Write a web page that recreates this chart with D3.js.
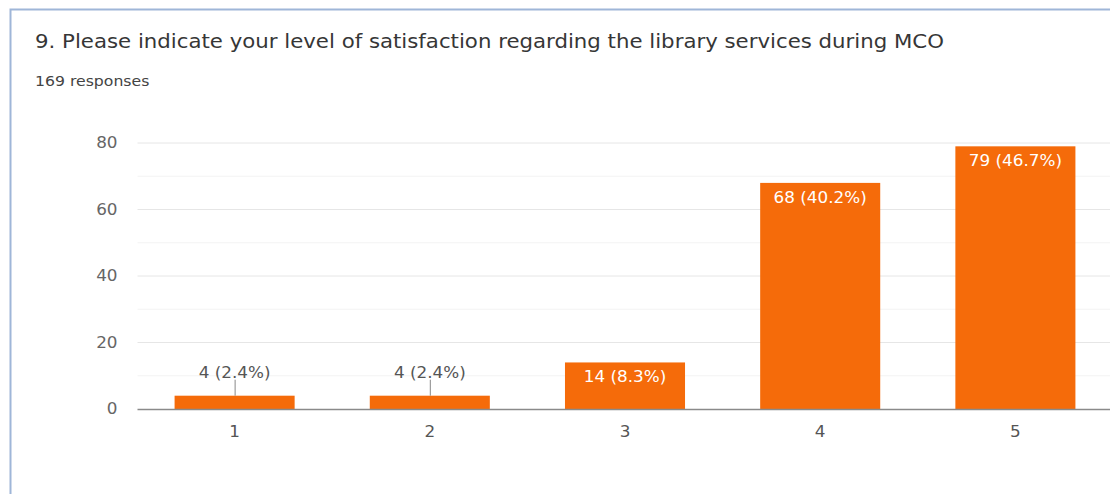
<!DOCTYPE html>
<html>
<head>
<meta charset="utf-8">
<script src="https://cdn.jsdelivr.net/npm/d3@7"></script>
<style>
  html, body { margin: 0; padding: 0; background: #fff; }
  svg { display: block; font-family: "DejaVu Sans", Verdana, sans-serif; }
</style>
</head>
<body>
<svg id="chart" width="1110" height="494"></svg>
<script>
const titleText = "9. Please indicate your level of satisfaction regarding the library services during MCO";
const subtitleText = "169 responses";
const categories = ["1", "2", "3", "4", "5"];
const counts = [4, 4, 14, 68, 79];
const percents = ["2.4%", "2.4%", "8.3%", "40.2%", "46.7%"];
const yTicks = [0, 20, 40, 60, 80];

const svg = d3.select("#chart");
const W = 1110, H = 494;
const FONT = "'DejaVu Sans', Verdana, sans-serif";
const STRETCH = 1.12; // glyphs are drawn slightly wide

// card frame (open to the right and bottom)
svg.append("path")
  .attr("d", `M10.5,${H} V9.5 H${W}`)
  .attr("fill", "none")
  .attr("stroke", "#9fb6d8")
  .attr("stroke-width", 2);

svg.append("text")
  .attr("x", 35).attr("y", 48)
  .attr("font-size", 19)
  .attr("fill", "#363636")
  .text(titleText);

svg.append("text")
  .attr("x", 35).attr("y", 86)
  .attr("font-size", 14)
  .attr("fill", "#444")
  .text(subtitleText);

const plotLeft = 137.5, plotRight = 1112.5, plotTop = 143, plotBottom = 409;

const x = d3.scaleBand().domain(categories).range([plotLeft, plotRight])
  .paddingInner(0.385).paddingOuter(0.19);
const y = d3.scaleLinear().domain([0, 80]).range([plotBottom, plotTop]);

// gridlines: major every 20, minor every 10
const g = svg.append("g");
g.selectAll("line.minor")
  .data(d3.range(10, 81, 20))
  .join("line")
  .attr("class", "minor")
  .attr("x1", plotLeft).attr("x2", W)
  .attr("y1", d => y(d)).attr("y2", d => y(d))
  .attr("stroke", "#f3f3f3").attr("stroke-width", 1);
g.selectAll("line.major")
  .data(yTicks.filter(d => d > 0))
  .join("line")
  .attr("class", "major")
  .attr("x1", plotLeft).attr("x2", W)
  .attr("y1", d => y(d)).attr("y2", d => y(d))
  .attr("stroke", "#e6e6e6").attr("stroke-width", 1);

// y axis labels
const yAxis = d3.axisLeft(y).tickValues(yTicks).tickSize(0).tickPadding(20);
svg.append("g")
  .attr("transform", `translate(${plotLeft},0)`)
  .call(yAxis)
  .call(s => s.select(".domain").remove())
  .call(s => s.selectAll("text").attr("font-size", 15).attr("fill", "#666")
    .attr("font-family", FONT));

// bars
const data = categories.map((c, i) => ({ c, v: counts[i], p: percents[i] }));
svg.selectAll("rect.bar")
  .data(data)
  .join("rect")
  .attr("class", "bar")
  .attr("x", d => x(d.c))
  .attr("width", x.bandwidth())
  .attr("y", d => y(d.v))
  .attr("height", d => y(0) - y(d.v))
  .attr("fill", "#f56b0a");

// baseline
svg.append("line")
  .attr("x1", plotLeft).attr("x2", W)
  .attr("y1", plotBottom + 0.5).attr("y2", plotBottom + 0.5)
  .attr("stroke", "#8a8a8a").attr("stroke-width", 1.5);

// x axis labels
const xAxis = d3.axisBottom(x).tickSize(0).tickPadding(17);
svg.append("g")
  .attr("transform", `translate(0,${plotBottom})`)
  .call(xAxis)
  .call(s => s.select(".domain").remove())
  .call(s => s.selectAll("text").attr("font-size", 15).attr("fill", "#555")
    .attr("font-family", FONT));

// value labels: inside tall bars, above short bars with a leader line
const labelFor = d => `${d.v} (${d.p})`;
data.forEach(d => {
  const cx = x(d.c) + x.bandwidth() / 2;
  const barH = y(0) - y(d.v);
  if (barH >= 30) {
    svg.append("text")
      .attr("x", cx).attr("y", y(d.v) + 20)
      .attr("text-anchor", "middle")
      .attr("font-size", 15)
      .attr("fill", "#fff")
      .text(labelFor(d));
  } else {
    svg.append("line")
      .attr("x1", cx + 0.5).attr("x2", cx + 0.5)
      .attr("y1", y(d.v) - 16).attr("y2", y(d.v))
      .attr("stroke", "#888").attr("stroke-width", 1);
    svg.append("text")
      .attr("x", cx).attr("y", y(d.v) - 18)
      .attr("text-anchor", "middle")
      .attr("font-size", 15)
      .attr("fill", "#555")
      .text(labelFor(d));
  }
});

// widen every label horizontally
svg.selectAll("text").each(function () {
  const len = this.getComputedTextLength();
  d3.select(this)
    .attr("textLength", len * STRETCH)
    .attr("lengthAdjust", "spacingAndGlyphs");
});
</script>
</body>
</html>
